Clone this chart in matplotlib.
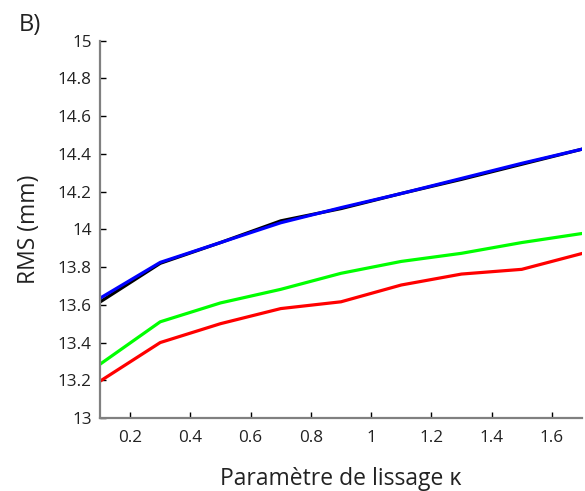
import matplotlib
matplotlib.use("Agg")
import matplotlib.pyplot as plt

kappa = [0.1, 0.3, 0.5, 0.7, 0.9, 1.1, 1.3, 1.5, 1.7]
rms_black = [13.615, 13.82, 13.93, 14.045, 14.11, 14.19, 14.265, 14.345, 14.425]
rms_blue = [13.635, 13.825, 13.93, 14.035, 14.115, 14.19, 14.27, 14.35, 14.425]
rms_green = [13.285, 13.51, 13.61, 13.682, 13.767, 13.83, 13.873, 13.93, 13.978]
rms_red = [13.195, 13.40, 13.50, 13.58, 13.616, 13.705, 13.763, 13.788, 13.872]
xticks = [0.2, 0.4, 0.6, 0.8, 1, 1.2, 1.4, 1.6]
xticklabels = ["0.2", "0.4", "0.6", "0.8", "1", "1.2", "1.4", "1.6"]
yticks = [13, 13.2, 13.4, 13.6, 13.8, 14, 14.2, 14.4, 14.6, 14.8, 15]
yticklabels = ["13", "13.2", "13.4", "13.6", "13.8", "14", "14.2", "14.4", "14.6", "14.8", "15"]

plt.rcParams['font.family'] = ['Open Sans', 'DejaVu Sans']

fig = plt.figure(figsize=(5.85, 4.91), dpi=100)
ax = fig.add_axes([100/585, 73/491, 482/585, 377.3/491])

lw = 2.3
ax.plot(kappa, rms_black, color='#000000', lw=lw, solid_joinstyle='round')
ax.plot(kappa, rms_blue, color='#0000ff', lw=lw, solid_joinstyle='round')
ax.plot(kappa, rms_green, color='#00ff00', lw=lw, solid_joinstyle='round')
ax.plot(kappa, rms_red, color='#ff0000', lw=lw, solid_joinstyle='round')

ax.set_xlim(0.1, 1.7)
ax.set_ylim(13, 15)
ax.set_xticks(xticks)
ax.set_xticklabels(xticklabels)
ax.set_yticks(yticks)
ax.set_yticklabels(yticklabels)

for s in ['top', 'right']:
    ax.spines[s].set_visible(False)
for s in ['left', 'bottom']:
    ax.spines[s].set_color('#808080')
    ax.spines[s].set_linewidth(1.6)

ax.tick_params(direction='in', length=4, width=1, color='black',
               labelsize=12.3, labelcolor='#222222')
ax.tick_params(axis='x', pad=9)
ax.tick_params(axis='y', pad=6)

ax.set_xlabel('Paramètre de lissage κ', fontsize=16.5, color='#222222', labelpad=15)
ax.set_ylabel('RMS (mm)', fontsize=16.5, color='#222222', labelpad=12)
fig.text(19/585, 1 - 25/491, 'B)', fontsize=17, color='#222222', va='center', ha='left')

fig.savefig('out.png', dpi=100)
